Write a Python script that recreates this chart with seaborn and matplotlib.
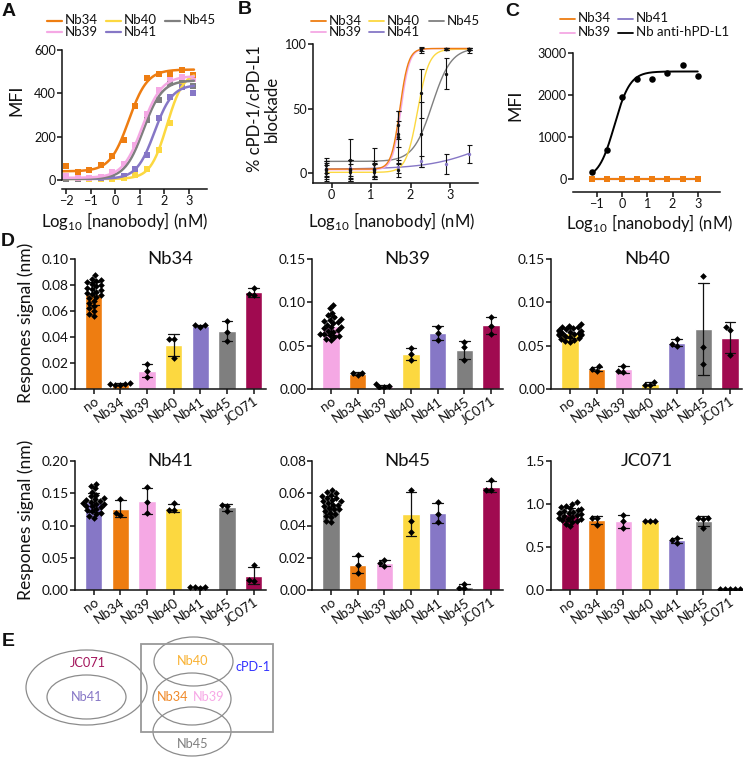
import numpy as np
import pandas as pd
import matplotlib
matplotlib.use("Agg")
import matplotlib.pyplot as plt
import seaborn as sns
from matplotlib.lines import Line2D
from matplotlib.patches import Ellipse, Rectangle
from matplotlib.ticker import FormatStrFormatter, MultipleLocator

# ---------------- colours ----------------
ORANGE = "#EE7D11"
PINK = "#F5A8E4"
YELLOW = "#FCD840"
PURPLE = "#8677C6"
GRAY = "#7F7F7F"
MAROON = "#A00A50"
NB_COLORS = {"Nb34": ORANGE, "Nb39": PINK, "Nb40": YELLOW, "Nb41": PURPLE,
             "Nb45": GRAY, "JC071": MAROON}

# ---------------- panel A data ----------------
A_NAMES = ["Nb34", "Nb39", "Nb40", "Nb41", "Nb45"]
A_LOGX = [-2.0, -1.53, -1.06, -0.59, -0.12, 0.35, 0.82, 1.29, 1.76, 2.23, 2.71, 3.18]
A_NB34 = [65, 35, 48, 70, 110, 185, 340, 470, 490, 488, 508, 485]
A_NB39 = [20, 8, 10, 15, 35, 75, 160, 305, 415, 470, 475, 465]
A_NB40 = [5, 5, 5, 5, 5, 8, 25, 50, 140, 265, 455, 470]
A_NB41 = [5, 5, 8, 8, 12, 20, 50, 115, 285, 385, 430, 400]
A_NB45 = [5, 5, 8, 12, 35, 72, 160, 275, 370, 450, 465, 435]
# fitted 4-parameter logistic curves (bottom, top, logEC50, hill)
A_BOTTOM = [40, 10, 5, 5, 5]
A_TOP = [510, 480, 500, 440, 460]
A_LOGEC50 = [0.55, 1.1, 2.1, 1.6, 1.15]
A_HILL = [1.15, 1.1, 1.3, 1.2, 1.15]

# ---------------- panel B data ----------------
B_NAMES = ["Nb34", "Nb39", "Nb40", "Nb41", "Nb45"]
B_LOGX = [-0.14, 0.47, 1.08, 1.68, 2.27, 2.89, 3.48]
B_MEAN_NB34 = [2, 2, 2, 37, 96, 96, 96]
B_SD_NB34 = [7, 8, 5, 11, 1.5, 1, 1]
B_MEAN_NB39 = [3, 3, 3, 30, 95, 96, 96]
B_SD_NB39 = [6, 7, 6, 10, 2, 1, 1]
B_MEAN_NB40 = [0, 1, 1, 2, 62, 96, 96]
B_SD_NB40 = [6, 6, 6, 5, 19, 1, 1]
B_MEAN_NB41 = [3, 4, 3, 5, 9, 7, 15]
B_SD_NB41 = [5, 6, 5, 5, 4, 8, 7]
B_MEAN_NB45 = [6, 10, 7, 28, 30, 77, 95]
B_SD_NB45 = [6, 16, 12, 20, 25, 12, 2]
B_BOTTOM = [3, 2.5, 0.5, 3, 9]
B_TOP = [96.5, 96.5, 96, 40, 97]
B_LOGEC50 = [1.73, 1.76, 2.18, 4.0, 2.55]
B_HILL = [4.0, 4.0, 3.0, 0.6, 1.8]

# ---------------- panel C data ----------------
C_NAMES = ["Nb34", "Nb39", "Nb41", "Nb anti-hPD-L1"]
C_LOGX = [-1.2, -0.6, 0.0, 0.6, 1.2, 1.8, 2.4, 3.0]
C_ANTI = [176, 680, 1950, 2375, 2390, 2525, 2720, 2455]
C_NB34 = [0, 0, 0, 0, 0, 0, 0, 0]
C_NB39 = [0, 0, 0, 0, 0, 0, 0, 0]
C_NB41 = [0, 0, 0, 0, 0, 0, 0, 0]
C_FIT = [0, 2560, -0.3, 1.4]  # bottom, top, logEC50, hill

# ---------------- panel D data (replicates) ----------------
D_CATS = ["no", "Nb34", "Nb39", "Nb40", "Nb41", "Nb45", "JC071"]
D_NB34 = [
    [0.088, 0.085, 0.084, 0.083, 0.082, 0.081, 0.080, 0.079, 0.078, 0.077, 0.076, 0.075,
     0.074, 0.073, 0.072, 0.071, 0.070, 0.068, 0.066, 0.064, 0.062, 0.060, 0.058, 0.056],
    [0.003, 0.004, 0.005, 0.004, 0.003],
    [0.019, 0.014, 0.009],
    [0.0385, 0.0385, 0.024],
    [0.048, 0.049, 0.049],
    [0.0525, 0.044, 0.037],
    [0.078, 0.072, 0.073],
]
D_NB39 = [
    [0.097, 0.093, 0.088, 0.085, 0.083, 0.081, 0.080, 0.078, 0.077, 0.076, 0.074, 0.072,
     0.071, 0.070, 0.068, 0.067, 0.066, 0.064, 0.063, 0.062, 0.061, 0.060, 0.058, 0.056],
    [0.016, 0.019, 0.018],
    [0.002, 0.006, 0.002, 0.003],
    [0.047, 0.040, 0.034],
    [0.072, 0.065, 0.056],
    [0.054, 0.048, 0.034],
    [0.083, 0.073, 0.064],
]
D_NB40 = [
    [0.075, 0.073, 0.072, 0.071, 0.070, 0.069, 0.068, 0.067, 0.067, 0.066, 0.065, 0.065,
     0.064, 0.064, 0.063, 0.062, 0.062, 0.061, 0.060, 0.059, 0.058, 0.057, 0.055, 0.054],
    [0.021, 0.026, 0.023],
    [0.020, 0.027, 0.021],
    [0.005, 0.008, 0.005],
    [0.058, 0.050, 0.052],
    [0.130, 0.049, 0.029],
    [0.071, 0.068, 0.039],
]
D_NB41 = [
    [0.165, 0.162, 0.158, 0.152, 0.148, 0.145, 0.143, 0.141, 0.140, 0.138, 0.137, 0.135,
     0.134, 0.133, 0.131, 0.130, 0.128, 0.126, 0.124, 0.122, 0.120, 0.118, 0.115, 0.112],
    [0.141, 0.117, 0.120],
    [0.159, 0.136, 0.119],
    [0.124, 0.1345, 0.124],
    [0.003, 0.004, 0.004, 0.004],
    [0.132, 0.131, 0.122],
    [0.038, 0.014, 0.015],
]
D_NB45 = [
    [0.062, 0.061, 0.060, 0.059, 0.058, 0.057, 0.057, 0.056, 0.055, 0.055, 0.054, 0.053,
     0.053, 0.052, 0.051, 0.050, 0.050, 0.049, 0.048, 0.047, 0.046, 0.045, 0.043, 0.042],
    [0.0214, 0.0153, 0.0106],
    [0.0188, 0.0149, 0.0167],
    [0.0622, 0.0429, 0.0357],
    [0.0547, 0.047, 0.0424],
    [0.001, 0.004, 0.0015],
    [0.068, 0.062, 0.062],
]
D_JC071 = [
    [1.02, 1.00, 0.98, 0.96, 0.95, 0.94, 0.93, 0.92, 0.91, 0.90, 0.89, 0.89,
     0.88, 0.87, 0.86, 0.85, 0.84, 0.83, 0.82, 0.81, 0.80, 0.79, 0.77, 0.74],
    [0.838, 0.838, 0.76],
    [0.877, 0.80, 0.723],
    [0.80, 0.805, 0.80],
    [0.607, 0.55, 0.577],
    [0.84, 0.835, 0.83, 0.72],
    [0.01, 0.012, 0.011, 0.01, 0.012],
]

# ---------------- panel E labels ----------------
E_LABELS = ["JC071", "Nb41", "Nb40", "cPD-1", "Nb34", "Nb39", "Nb45"]
E_LABEL_COLORS = ["#A3145B", PURPLE, "#F9B233", "#3333FF", "#F08A2A", "#F7A8E6", "#808080"]

# =====================================================================
sns.set_theme(style="ticks")
plt.rcParams["font.family"] = ["Lato", "DejaVu Sans"]
plt.rcParams["mathtext.fontset"] = "custom"
plt.rcParams["mathtext.rm"] = "Lato"
plt.rcParams["axes.linewidth"] = 1.1
plt.rcParams["xtick.major.width"] = 1.1
plt.rcParams["ytick.major.width"] = 1.1
plt.rcParams["xtick.major.size"] = 3.5
plt.rcParams["ytick.major.size"] = 3.5
plt.rcParams["xtick.color"] = "#111111"
plt.rcParams["ytick.color"] = "#111111"
plt.rcParams["axes.edgecolor"] = "#111111"
plt.rcParams["text.color"] = "#111111"

W, H = 750, 759
fig = plt.figure(figsize=(7.5, 7.59), dpi=100)
RENDERER = fig.canvas.get_renderer()


def fit_size(s, target_px, fs0=10.0):
    """font size for which text s is target_px wide (layout helper)"""
    t = fig.text(0, 0, s, fontsize=fs0)
    w = t.get_window_extent(RENDERER).width
    t.remove()
    return float(np.clip(fs0 * target_px / w, 6, 20))


def px_axes(x0, y0, x1, y1, **kw):
    return fig.add_axes([x0 / W, 1 - y1 / H, (x1 - x0) / W, (y1 - y0) / H], **kw)


def ftext(x, y, s, **kw):
    return fig.text(x / W, 1 - y / H, s, **kw)


def logistic(x, bottom, top, ec50, hill):
    return bottom + (top - bottom) / (1 + 10 ** ((ec50 - x) * hill))


AXLAB = fit_size("Log$_{10}$ [nanobody] (nM)", 168)
MFI_FS = fit_size("MFI", 31)
BYLAB = fit_size("% cPD-1/cPD-L1", 127)
LEGFS = fit_size("Nb34", 33)
TICK = fit_size("600", 22)
DTICK = fit_size("0.08", 27)
DXTICK = fit_size("Nb34", 34)
TITLE = fit_size("Nb41", 46)
DYLAB = fit_size("Respones signal (nm)", 160)
EFS = fit_size("JC071", 36)


def style_ax(ax, size):
    sns.despine(ax=ax)
    ax.tick_params(labelsize=size, pad=1.0)


def legend_entries(names, colors, spots, lw):
    for name, col, (x, y) in zip(names, colors, spots):
        fig.add_artist(Line2D([x / W, (x + 15) / W], [1 - y / H, 1 - y / H],
                              transform=fig.transFigure, color=col, lw=lw))
        ftext(x + 18, y, name, ha="left", va="center", fontsize=LEGFS)


# ---------------- Panel A ----------------
axA = px_axes(62, 50, 207, 189)
a_series = {"Nb34": A_NB34, "Nb39": A_NB39, "Nb40": A_NB40, "Nb41": A_NB41, "Nb45": A_NB45}
for name in ["Nb40", "Nb41", "Nb45", "Nb39", "Nb34"]:
    i = A_NAMES.index(name)
    xs = np.linspace(-2.15, 3.2, 200)
    ys = logistic(xs, A_BOTTOM[i], A_TOP[i], A_LOGEC50[i], A_HILL[i])
    sns.lineplot(x=xs, y=ys, color=NB_COLORS[name], lw=1.8, ax=axA, sort=False)
    sns.scatterplot(x=A_LOGX, y=a_series[name], color=NB_COLORS[name], marker="s",
                    s=16, linewidth=0, ax=axA, clip_on=False)
axA.set_xlim(-2.16, 3.73)
axA.set_ylim(-41.5, 600)
axA.set_xticks([-2, -1, 0, 1, 2, 3])
axA.set_yticks([0, 200, 400, 600])
style_ax(axA, TICK)
axA.spines["left"].set_bounds(0, 600)
ftext(16, 100, "MFI", rotation=90, ha="center", va="center", fontsize=MFI_FS)
ftext(125, 221, "Log$_{10}$ [nanobody] (nM)", ha="center", va="center", fontsize=AXLAB)
legend_entries(["Nb34", "Nb40", "Nb45", "Nb39", "Nb41"],
               [ORANGE, YELLOW, GRAY, PINK, PURPLE],
               [(47, 20.5), (106, 20.5), (165, 20.5), (47, 31.5), (106, 31.5)], 1.6)

# ---------------- Panel B ----------------
axB = px_axes(313, 44, 478, 183)
b_mean = {"Nb34": B_MEAN_NB34, "Nb39": B_MEAN_NB39, "Nb40": B_MEAN_NB40,
          "Nb41": B_MEAN_NB41, "Nb45": B_MEAN_NB45}
b_sd = {"Nb34": B_SD_NB34, "Nb39": B_SD_NB39, "Nb40": B_SD_NB40,
        "Nb41": B_SD_NB41, "Nb45": B_SD_NB45}
for name in ["Nb41", "Nb45", "Nb40", "Nb39", "Nb34"]:
    i = B_NAMES.index(name)
    xs = np.linspace(min(B_LOGX), max(B_LOGX), 300)
    ys = logistic(xs, B_BOTTOM[i], B_TOP[i], B_LOGEC50[i], B_HILL[i])
    sns.lineplot(x=xs, y=ys, color=NB_COLORS[name], lw=1.0, ax=axB, sort=False)
for name in ["Nb41", "Nb45", "Nb40", "Nb39", "Nb34"]:
    axB.errorbar(B_LOGX, b_mean[name], yerr=b_sd[name], fmt="none", ecolor="#111111",
                 elinewidth=0.8, capsize=1.8, capthick=0.8, zorder=4)
    sns.scatterplot(x=B_LOGX, y=b_mean[name], color="#111111" if name != "Nb41" else PURPLE,
                    s=6, linewidth=0, ax=axB, zorder=5)
axB.set_xlim(-0.47, 3.71)
axB.set_ylim(-7.75, 100)
axB.set_xticks([0, 1, 2, 3])
axB.set_yticks([0, 50, 100])
style_ax(axB, TICK)
ftext(263, 109, "% cPD-1/cPD-L1\nblockade", rotation=90, ha="center", va="center",
      fontsize=BYLAB, multialignment="center", linespacing=1.1)
ftext(392, 221, "Log$_{10}$ [nanobody] (nM)", ha="center", va="center", fontsize=AXLAB)
legend_entries(["Nb34", "Nb40", "Nb45", "Nb39", "Nb41"],
               [ORANGE, YELLOW, GRAY, PINK, PURPLE],
               [(311, 21), (369, 21), (429, 21), (311, 32), (369, 32)], 1.3)

# ---------------- Panel C ----------------
axC = px_axes(573, 53, 720, 192)
for name, vals in [("Nb41", C_NB41), ("Nb39", C_NB39), ("Nb34", C_NB34)]:
    sns.lineplot(x=C_LOGX, y=vals, color=NB_COLORS[name], lw=1.5, ax=axC)
    sns.scatterplot(x=C_LOGX, y=vals, color=NB_COLORS[name], marker="s", s=16,
                    linewidth=0, ax=axC, zorder=3)
xs = np.linspace(min(C_LOGX), max(C_LOGX), 200)
sns.lineplot(x=xs, y=logistic(xs, *C_FIT), color="black", lw=1.4, ax=axC)
sns.scatterplot(x=C_LOGX, y=C_ANTI, color="black", s=22, linewidth=0, ax=axC, zorder=4)
axC.set_xlim(-1.94, 3.88)
axC.set_ylim(-310, 3000)
axC.set_xticks([-1, 0, 1, 2, 3])
axC.set_yticks([0, 1000, 2000, 3000])
style_ax(axC, TICK)
axC.spines["left"].set_bounds(0, 3000)
ftext(515, 105, "MFI", rotation=90, ha="center", va="center", fontsize=MFI_FS)
ftext(650, 223, "Log$_{10}$ [nanobody] (nM)", ha="center", va="center", fontsize=AXLAB)
legend_entries(C_NAMES, [ORANGE, PINK, PURPLE, "black"],
               [(560, 18.5), (560, 32.5), (618, 18.5), (618, 32.5)], 1.3)

# ---------------- Panel D ----------------
D_PANELS = [
    ("Nb34", D_NB34, 0.10, 0.02, "%.2f"),
    ("Nb39", D_NB39, 0.15, 0.05, "%.2f"),
    ("Nb40", D_NB40, 0.15, 0.05, "%.2f"),
    ("Nb41", D_NB41, 0.20, 0.05, "%.2f"),
    ("Nb45", D_NB45, 0.08, 0.02, "%.2f"),
    ("JC071", D_JC071, 1.5, 0.5, "%.1f"),
]
COL_FIRST = [93.5, 331, 570]
SP = 26.67
ROWS = [(259, 389), (461, 590)]
for k, (title, reps, ymax, step, fmt) in enumerate(D_PANELS):
    r, c = divmod(k, 3)
    left = COL_FIRST[c] - 0.7 * SP
    right = COL_FIRST[c] + 6.45 * SP
    ax = px_axes(left, ROWS[r][0], right, ROWS[r][1])
    df = pd.DataFrame([(cat, v) for cat, vals in zip(D_CATS, reps) for v in vals],
                      columns=["cond", "signal"])
    pal = {cat: NB_COLORS.get(cat, NB_COLORS[title]) for cat in D_CATS}
    sns.barplot(data=df, x="cond", y="signal", hue="cond", order=D_CATS, hue_order=D_CATS,
                palette=pal, errorbar="sd", capsize=0.4, width=0.65, saturation=1,
                err_kws={"color": "#111111", "linewidth": 0.9}, legend=False, ax=ax)
    sns.swarmplot(data=df, x="cond", y="signal", order=D_CATS, color="black", marker="D",
                  size=3.4, ax=ax, warn_thresh=1.0)
    ax.set_xlim(-0.7, 6.45)
    ax.set_ylim(0, ymax)
    ax.yaxis.set_major_locator(MultipleLocator(step))
    ax.yaxis.set_major_formatter(FormatStrFormatter(fmt))
    ax.set_xlabel("")
    ax.set_ylabel("")
    style_ax(ax, DTICK)
    for lab in ax.get_xticklabels():
        lab.set_rotation(35)
        lab.set_ha("right")
        lab.set_rotation_mode("anchor")
        lab.set_fontsize(DXTICK)
    ax.text(0.5, 1.0, title, transform=ax.transAxes, ha="center", va="center", fontsize=TITLE)

ftext(26, 323, "Respones signal (nm)", rotation=90, ha="center", va="center", fontsize=DYLAB)
ftext(26, 520, "Respones signal (nm)", rotation=90, ha="center", va="center", fontsize=DYLAB)

# ---------------- Panel E (diagram) ----------------
axE = fig.add_axes([0, 0, 1, 1], zorder=-1)
axE.set_xlim(0, W)
axE.set_ylim(H, 0)
axE.axis("off")
E_ELLIPSES = [(86.5, 687.5, 121, 75), (86.5, 697, 79, 44), (193.5, 661.5, 79, 49),
              (192, 699, 78, 52), (192, 731.5, 78, 49)]
for (cx, cy, w, h) in E_ELLIPSES:
    axE.add_patch(Ellipse((cx, cy), w, h, fill=False, edgecolor="#8C8C8C", lw=0.9))
axE.add_patch(Rectangle((141, 644), 132, 88, fill=False, edgecolor="#999999", lw=1.3))
E_POS = [(88, 663), (87, 697), (193, 661), (253, 667), (173, 697), (209, 697), (193, 744)]
for lab, col, (x, y) in zip(E_LABELS, E_LABEL_COLORS, E_POS):
    axE.text(x, y, lab, color=col, ha="center", va="center", fontsize=EFS)

# ---------------- panel letters ----------------
for letter, (x, y) in zip("ABCDE", [(9, 12), (245, 10), (512, 12), (8, 241), (8, 641)]):
    ftext(x, y, letter, ha="center", va="center", fontsize=14, fontweight="bold",
          family="Liberation Sans")

fig.savefig("out.png", dpi=100)
